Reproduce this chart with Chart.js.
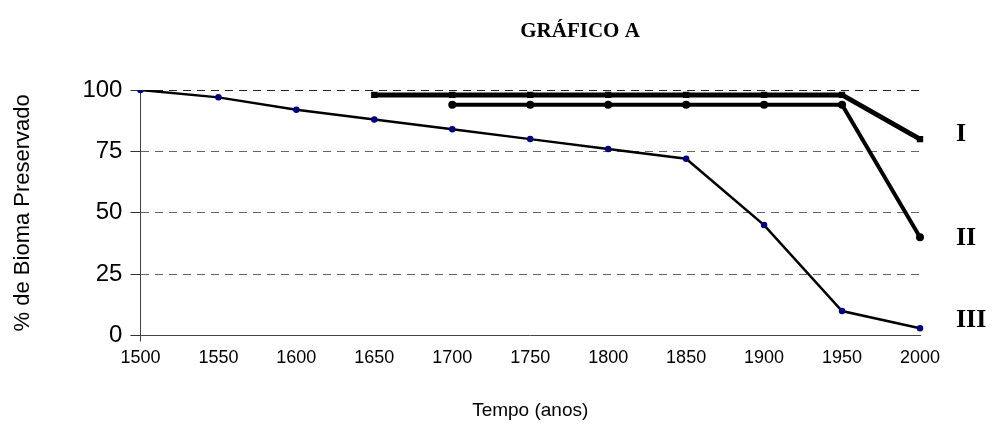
<!DOCTYPE html>
<html>
<head>
<meta charset="utf-8">
<script src="https://cdn.jsdelivr.net/npm/chart.js@4.4.0/dist/chart.umd.min.js"></script>
<style>
	body { margin: 0; background: #fff; }
</style>
</head>
<body>
<canvas id="grafico" width="996" height="426"></canvas>
<script>
const anos = [1500, 1550, 1600, 1650, 1700, 1750, 1800, 1850, 1900, 1950, 2000];
const serie_I = [null, null, null, 98, 98, 98, 98, 98, 98, 98, 80];
const serie_II = [null, null, null, null, 94, 94, 94, 94, 94, 94, 40];
const serie_III = [100, 97, 92, 88, 84, 80, 76, 72, 45, 10, 3];
const rotulos = ["I", "II", "III"];
const y_ticks = [0, 25, 50, 75, 100];

Chart.defaults.font.family = "'Liberation Sans', Arial, sans-serif";
Chart.defaults.color = "#000";

// draws the title and the I / II / III labels next to each line end
const rotulosPlugin = {
	id: "rotulos",
	afterDraw(chart) {
		const ctx = chart.ctx;
		ctx.save();
		ctx.fillStyle = "#000";
		ctx.font = "bold 21px 'Liberation Serif', 'Times New Roman', serif";
		ctx.textAlign = "center";
		ctx.textBaseline = "middle";
		ctx.fillText("GRÁFICO A", 580, 32);
		ctx.font = "bold 26px 'Liberation Serif', 'Times New Roman', serif";
		ctx.textAlign = "left";
		const offsets = [-5, 1, -8];
		chart.data.datasets.forEach((ds, i) => {
			const meta = chart.getDatasetMeta(i);
			const last = meta.data[meta.data.length - 1];
			ctx.fillText(rotulos[i], chart.chartArea.right + 36, last.y + offsets[i]);
		});
		ctx.restore();
	}
};

new Chart(document.getElementById("grafico").getContext("2d"), {
	type: "line",
	data: {
		labels: anos,
		datasets: [
			{
				// I
				data: serie_I,
				borderColor: "#000",
				backgroundColor: "#000",
				borderWidth: 5,
				pointStyle: "rect",
				pointRadius: 4.5,
				pointBorderWidth: 0,
				lineTension: 0,
			},
			{
				// II
				data: serie_II,
				borderColor: "#000",
				backgroundColor: "#000",
				borderWidth: 4,
				pointStyle: "circle",
				pointRadius: 4,
				pointBorderWidth: 0,
				lineTension: 0,
			},
			{
				// III
				data: serie_III,
				borderColor: "#000",
				backgroundColor: "#000080",
				pointBorderColor: "#000080",
				borderWidth: 2.5,
				pointRadius: 2,
				lineTension: 0,
			}
		]
	},
	options: {
		responsive: false,
		animation: false,
		layout: { padding: { top: 90, right: 76, left: 10, bottom: 0 } },
		plugins: {
			legend: { display: false },
			tooltip: { enabled: false },
		},
		scales: {
			x: {
				grid: {
					drawOnChartArea: false,
					tickLength: 6,
					tickColor: (c) => c.index === 0 ? "#444" : "rgba(0,0,0,0)",
				},
				border: { color: "#444", width: 1 },
				ticks: { font: { size: 18 }, padding: 6, maxRotation: 0, autoSkip: false },
				title: { display: true, text: "Tempo (anos)", font: { size: 19 }, padding: { top: 24 } }
			},
			y: {
				min: 0,
				max: 100,
				afterBuildTicks: (axis) => { axis.ticks = y_ticks.map(v => ({ value: v })); },
				grid: {
					color: (c) => c.tick && c.tick.value === 0 ? "rgba(0,0,0,0)" : (c.tick && c.tick.value === 100 ? "#222" : "#666"),
					tickColor: "#333",
					tickLength: 10,
					tickBorderDash: [],
				},
				border: { color: "#444", width: 1, dash: [8, 6] },
				ticks: { font: { size: 24 }, padding: 8 },
				title: { display: true, text: "% de Bioma Preservado", font: { size: 22 }, padding: { top: 0, bottom: 38 } }
			}
		},
		events: [],
	},
	plugins: [rotulosPlugin]
});
</script>
</body>
</html>
